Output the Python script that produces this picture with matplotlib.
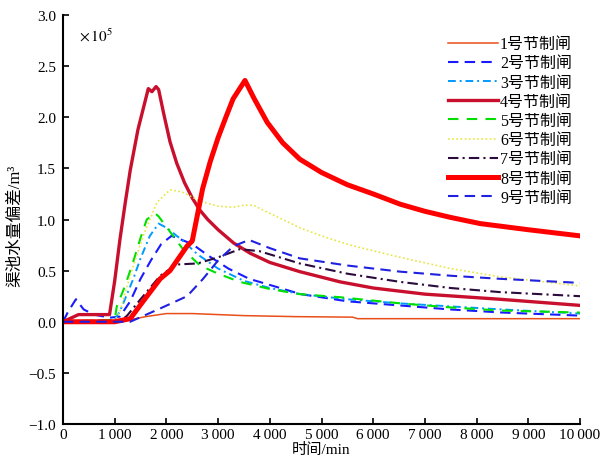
import matplotlib
matplotlib.use("Agg")
import matplotlib.pyplot as plt
from matplotlib.ticker import FuncFormatter, MultipleLocator

plt.rcParams['font.family'] = ['Liberation Serif', 'Noto Sans CJK SC']
plt.rcParams['mathtext.fontset'] = 'stix'

# time in min, volume deviation in 1e5 m3
t1 = [0, 1000, 1300, 1600, 2000, 2500, 3000, 3500, 4500, 5600, 5700, 10000]
y1 = [0, 0, 0.02, 0.05, 0.08, 0.08, 0.07, 0.06, 0.05, 0.045, 0.03, 0.03]

t2 = [0, 100, 250, 400, 600, 900, 1100, 1300, 1500, 1700, 1900, 2100, 2300, 2500, 2800,
      3200, 3600, 4000, 4600, 5500, 6500, 7500, 8500, 10000]
y2 = [0, 0.1, 0.22, 0.12, 0.07, 0.04, 0.05, 0.2, 0.42, 0.6, 0.76, 0.84, 0.8, 0.76, 0.65,
      0.52, 0.42, 0.36, 0.27, 0.2, 0.16, 0.12, 0.09, 0.06]

t3 = [0, 1000, 1100, 1360, 1500, 1680, 1850, 2000, 2300, 2600, 3000, 3500, 4000, 4600,
      5500, 6500, 7500, 8500, 10000]
y3 = [0, 0.02, 0.1, 0.42, 0.62, 0.84, 0.96, 0.92, 0.8, 0.66, 0.52, 0.4, 0.33, 0.27,
      0.22, 0.18, 0.15, 0.12, 0.08]

t4 = [0, 300, 900, 1000, 1100, 1200, 1300, 1450, 1650, 1720, 1800, 1850, 1950, 2070,
      2200, 2350, 2500, 2650, 2800, 3000, 3300, 3620, 4000, 4580, 5360, 6000, 7000,
      8450, 10000]
y4 = [0, 0.07, 0.07, 0.4, 0.8, 1.15, 1.48, 1.88, 2.28, 2.25, 2.3, 2.27, 2.03, 1.76,
      1.55, 1.36, 1.21, 1.09, 1.0, 0.9, 0.77, 0.67, 0.58, 0.49, 0.39, 0.33, 0.27,
      0.22, 0.16]

t5 = [0, 1000, 1040, 1200, 1360, 1500, 1620, 1780, 1850, 2070, 2320, 2650, 3000, 3420,
      4000, 4580, 5360, 6520, 7500, 8450, 10000]
y5 = [0, 0.02, 0.15, 0.35, 0.59, 0.82, 1.0, 1.06, 1.03, 0.88, 0.71, 0.55, 0.47, 0.39,
      0.32, 0.27, 0.24, 0.18, 0.14, 0.11, 0.09]

t6 = [0, 1000, 1100, 1300, 1550, 1820, 2070, 2300, 2650, 3000, 3290, 3500, 3680, 4000,
      4580, 5000, 5550, 6520, 7500, 8450, 9500, 10000]
y6 = [0, 0.01, 0.1, 0.45, 0.84, 1.17, 1.29, 1.27, 1.18, 1.13, 1.12, 1.14, 1.14, 1.06,
      0.92, 0.84, 0.75, 0.63, 0.52, 0.44, 0.38, 0.35]

t7 = [0, 1100, 1240, 1500, 1880, 2200, 2600, 3000, 3420, 3800, 4580, 5500, 6520, 7500,
      8450, 10000]
y7 = [0, 0, 0.06, 0.22, 0.45, 0.56, 0.57, 0.63, 0.71, 0.69, 0.57, 0.47, 0.39, 0.33,
      0.29, 0.25]

t8 = [0, 1000, 1300, 1550, 1880, 2070, 2400, 2500, 2700, 2850, 3000, 3150, 3290, 3520,
      3600, 3700, 3950, 4250, 4580, 5000, 5500, 6000, 6520, 7000, 7500, 8070, 9000, 10000]
y8 = [0, 0, 0.03, 0.2, 0.42, 0.5, 0.74, 0.79, 1.3, 1.57, 1.8, 2.0, 2.18, 2.36,
      2.28, 2.18, 1.95, 1.75, 1.59, 1.46, 1.34, 1.25, 1.15, 1.08, 1.02, 0.96, 0.9, 0.84]

t9 = [0, 1300, 1880, 2400, 2710, 3000, 3300, 3600, 4000, 4580, 5500, 6520, 7500, 8450,
      10000]
y9 = [0, 0, 0.13, 0.25, 0.42, 0.6, 0.74, 0.8, 0.72, 0.62, 0.55, 0.49, 0.45, 0.42, 0.38]

names = ['1号节制闸', '2号节制闸', '3号节制闸', '4号节制闸', '5号节制闸',
         '6号节制闸', '7号节制闸', '8号节制闸', '9号节制闸']

fig = plt.figure(figsize=(6.16, 4.56), dpi=100)
ax = fig.add_axes([63 / 616, 31 / 456, 517 / 616, 409 / 456])

ax.plot(t1, y1, color='#E8501A', lw=1.1, label=names[0])
ax.plot(t2, y2, color='#1A1AFF', lw=1.5, ls=(0, (5, 3)), label=names[1])
ax.plot(t3, y3, color='#0099FF', lw=1.4, ls=(0, (4, 2, 1, 2)), label=names[2])
ax.plot(t4, y4, color='#C8102E', lw=2.4, label=names[3])
ax.plot(t5, y5, color='#00E000', lw=1.5, ls=(0, (5, 4)), label=names[4])
ax.plot(t6, y6, color='#E6E640', lw=1.2, ls=(0, (1, 1.5)), label=names[5])
ax.plot(t7, y7, color='#2B0A3D', lw=1.5, ls=(0, (5, 2, 1, 2)), label=names[6])
ax.plot(t8, y8, color='#FF0000', lw=3.6, label=names[7])
ax.plot(t9, y9, color='#2020E0', lw=1.5, ls=(0, (5, 3)), label=names[8])

ax.set_xlim(0, 10000)
ax.set_ylim(-1.0, 3.0)
ax.xaxis.set_major_locator(MultipleLocator(1000))
ax.yaxis.set_major_locator(MultipleLocator(0.5))


def fmt_x(v, pos):
    v = int(round(v))
    if v < 1000:
        return str(v)
    return f"{v // 1000}\u2009{v % 1000:03d}"


ax.xaxis.set_major_formatter(FuncFormatter(fmt_x))
ax.yaxis.set_major_formatter(FuncFormatter(lambda v, p: f"{v:.1f}".replace('-', '\u2212')))

ax.spines['top'].set_visible(False)
ax.spines['right'].set_visible(False)
for s in ('left', 'bottom'):
    ax.spines[s].set_linewidth(1.5)
ax.tick_params(direction='in', length=4, width=1.2, labelsize=11)
ax.tick_params(axis='x', pad=3)
ax.tick_params(axis='y', pad=5)

ax.set_xlabel('时间/min', fontsize=11)
ax.xaxis.set_label_coords(0.5, -0.043)
ax.set_ylabel('渠池水量偏差/m³', fontsize=12)
ax.yaxis.set_label_coords(-0.077, 0.487)

ax.text(0.03, 0.951, r'$\times\,10^{5}$', transform=ax.transAxes, fontsize=11, va='center')

ax.legend(loc='upper left', bbox_to_anchor=(0.745, 0.948), frameon=False, fontsize=11.5,
          handlelength=3.1, handletextpad=0.15, labelspacing=0.2, borderpad=0,
          borderaxespad=0)

fig.savefig('out.png', dpi=100)
